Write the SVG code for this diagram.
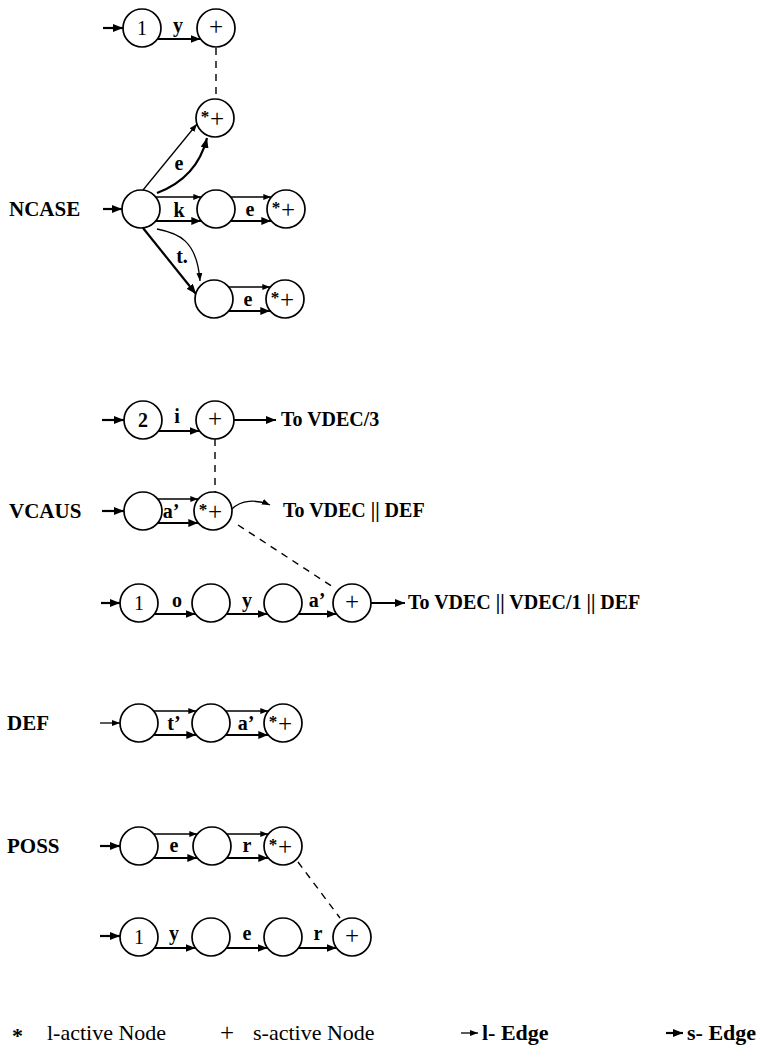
<svg xmlns="http://www.w3.org/2000/svg" width="762" height="1047" viewBox="0 0 762 1047">
<defs>
<marker id="la" viewBox="0 0 8 6" refX="8" refY="3" markerWidth="8" markerHeight="6" orient="auto" markerUnits="userSpaceOnUse"><path d="M0,0 L8,3 L0,6 z" fill="#000"/></marker>
<marker id="sa" viewBox="0 0 10 8" refX="10" refY="4" markerWidth="10" markerHeight="8" orient="auto" markerUnits="userSpaceOnUse"><path d="M0,0 L10,4 L0,8 z" fill="#000"/></marker>
</defs>
<style>
.n{fill:#fff;stroke:#000;stroke-width:1.7}
.t{font-family:"Liberation Serif",serif;fill:#000}
.nl{font-size:20px;text-anchor:middle}
.pl{font-size:25px;text-anchor:middle}
.st{font-size:17px;text-anchor:middle;font-weight:bold}
.el{font-size:20px;text-anchor:middle;font-weight:bold}
.sec{font-size:21px;font-weight:bold}
.to{font-size:20px;font-weight:bold}
.lg{font-size:22px}
.lgb{font-size:22px;font-weight:bold}
.l{fill:none;stroke:#000;stroke-width:1.3;marker-end:url(#la)}
.s{fill:none;stroke:#000;stroke-width:2.2;marker-end:url(#sa)}
.d{fill:none;stroke:#000;stroke-width:1.4;stroke-dasharray:7 6}
</style>
<rect width="762" height="1047" fill="#fff"/>
<g id="section-labels">
<text class="t sec" x="9" y="216">NCASE</text>
<text class="t sec" x="9" y="518">VCAUS</text>
<text class="t sec" x="7" y="730">DEF</text>
<text class="t sec" x="7" y="853">POSS</text>
</g>
<g id="connectors">
<line class="s" x1="103" y1="28" x2="123" y2="28"/>
<line class="s" x1="157.5" y1="39" x2="200.5" y2="39"/>
<line class="d" x1="216" y1="48" x2="216" y2="99"/>
<line class="s" x1="103" y1="209" x2="122" y2="209"/>
<line class="l" x1="143" y1="190" x2="197" y2="124"/>
<path class="s" d="M157,193 Q197,178 207,138"/>
<line class="l" x1="155.7" y1="197" x2="201.3" y2="197"/>
<line class="s" x1="155.7" y1="221" x2="201.3" y2="221"/>
<line class="l" x1="230.7" y1="197" x2="271.3" y2="197"/>
<line class="s" x1="230.7" y1="221" x2="271.3" y2="221"/>
<line class="s" x1="143" y1="228" x2="196" y2="294"/>
<path class="l" d="M157,229 C178,233 197,240 200,281"/>
<line class="l" x1="228.7" y1="287" x2="270.3" y2="287"/>
<line class="s" x1="228.7" y1="311" x2="270.3" y2="311"/>
<line class="s" x1="102" y1="420" x2="124" y2="420"/>
<line class="s" x1="158.5" y1="431" x2="199.5" y2="431"/>
<line class="s" x1="234" y1="420" x2="276" y2="420"/>
<line class="d" x1="215" y1="439" x2="215" y2="492"/>
<line class="s" x1="102" y1="511" x2="124" y2="511"/>
<line class="l" x1="157.7" y1="499" x2="198.3" y2="499"/>
<line class="s" x1="157.7" y1="523" x2="198.3" y2="523"/>
<path class="l" d="M232,509 C241,500 256,499 270,505"/>
<line class="d" x1="238" y1="525" x2="333" y2="587"/>
<line class="s" x1="101" y1="603" x2="120" y2="603"/>
<line class="s" x1="154.5" y1="614" x2="195.5" y2="614"/>
<line class="s" x1="226.5" y1="614" x2="267.5" y2="614"/>
<line class="s" x1="298.5" y1="614" x2="336.5" y2="614"/>
<line class="s" x1="371" y1="603" x2="405" y2="603"/>
<line class="l" x1="100" y1="723" x2="120" y2="723"/>
<line class="l" x1="153.7" y1="711" x2="196.3" y2="711"/>
<line class="s" x1="153.7" y1="735" x2="196.3" y2="735"/>
<line class="l" x1="225.7" y1="711" x2="268.3" y2="711"/>
<line class="s" x1="225.7" y1="735" x2="268.3" y2="735"/>
<line class="s" x1="100" y1="846" x2="120" y2="846"/>
<line class="l" x1="153.7" y1="834" x2="197.3" y2="834"/>
<line class="s" x1="153.7" y1="858" x2="197.3" y2="858"/>
<line class="l" x1="226.7" y1="834" x2="268.3" y2="834"/>
<line class="s" x1="226.7" y1="858" x2="268.3" y2="858"/>
<line class="d" x1="298" y1="862" x2="340" y2="918"/>
<line class="s" x1="100" y1="936" x2="120" y2="936"/>
<line class="s" x1="154.5" y1="948" x2="195.5" y2="948"/>
<line class="s" x1="226.5" y1="948" x2="267.5" y2="948"/>
<line class="s" x1="298.5" y1="948" x2="336.5" y2="948"/>
</g>
<g id="edge-labels">
<text class="t el" x="178" y="32">y</text>
<text class="t el" x="179" y="170">e</text>
<text class="t el" x="179" y="217">k</text>
<text class="t el" x="250" y="216">e</text>
<text class="t el" x="182" y="263" font-weight="normal">t.</text>
<text class="t el" x="248" y="306">e</text>
<text class="t el" x="177" y="423">i</text>
<text class="t el" x="171" y="518">a’</text>
<text class="t el" x="177" y="607">o</text>
<text class="t el" x="247" y="607">y</text>
<text class="t el" x="317" y="607">a’</text>
<text class="t el" x="174" y="730">t’</text>
<text class="t el" x="246" y="730">a’</text>
<text class="t el" x="174" y="852">e</text>
<text class="t el" x="247" y="852">r</text>
<text class="t el" x="174" y="940">y</text>
<text class="t el" x="247" y="940">e</text>
<text class="t el" x="318" y="940">r</text>
</g>
<g id="targets">
<text class="t to" x="281" y="426">To VDEC/3</text>
<text class="t to" x="283" y="517">To VDEC || DEF</text>
<text class="t to" x="408" y="609">To VDEC || VDEC/1 || DEF</text>
</g>
<g id="n-t1"><circle class="n" cx="142" cy="28" r="19"/><text class="t nl" x="142" y="35">1</text></g>
<g id="n-t2"><circle class="n" cx="216" cy="28" r="19"/><text class="t pl" x="216" y="35">+</text></g>
<g id="n-n1"><circle class="n" cx="215" cy="118" r="19"/><text class="t st" x="205" y="122">*</text><text class="t pl" x="217" y="127">+</text></g>
<g id="n-n0"><circle class="n" cx="141" cy="209" r="19"/></g>
<g id="n-n2"><circle class="n" cx="216" cy="209" r="19"/></g>
<g id="n-n3"><circle class="n" cx="286" cy="209" r="19"/><text class="t st" x="276" y="213">*</text><text class="t pl" x="288" y="218">+</text></g>
<g id="n-n4"><circle class="n" cx="214" cy="299" r="19"/></g>
<g id="n-n5"><circle class="n" cx="285" cy="299" r="19"/><text class="t st" x="275" y="303">*</text><text class="t pl" x="287" y="308">+</text></g>
<g id="n-v1"><circle class="n" cx="143" cy="420" r="19"/><text class="t nl" x="143" y="427" font-weight="bold">2</text></g>
<g id="n-v2"><circle class="n" cx="215" cy="420" r="19"/><text class="t pl" x="215" y="427">+</text></g>
<g id="n-v3"><circle class="n" cx="143" cy="511" r="19"/></g>
<g id="n-v4"><circle class="n" cx="213" cy="511" r="19"/><text class="t st" x="203" y="515">*</text><text class="t pl" x="215" y="520">+</text></g>
<g id="n-r1"><circle class="n" cx="139" cy="603" r="19"/><text class="t nl" x="139" y="610">1</text></g>
<g id="n-r2"><circle class="n" cx="211" cy="603" r="19"/></g>
<g id="n-r3"><circle class="n" cx="283" cy="603" r="19"/></g>
<g id="n-r4"><circle class="n" cx="352" cy="603" r="19"/><text class="t pl" x="352" y="610">+</text></g>
<g id="n-d1"><circle class="n" cx="139" cy="723" r="19"/></g>
<g id="n-d2"><circle class="n" cx="211" cy="723" r="19"/></g>
<g id="n-d3"><circle class="n" cx="283" cy="723" r="19"/><text class="t st" x="273" y="727">*</text><text class="t pl" x="285" y="732">+</text></g>
<g id="n-p1"><circle class="n" cx="139" cy="846" r="19"/></g>
<g id="n-p2"><circle class="n" cx="212" cy="846" r="19"/></g>
<g id="n-p3"><circle class="n" cx="283" cy="846" r="19"/><text class="t st" x="273" y="850">*</text><text class="t pl" x="285" y="855">+</text></g>
<g id="n-q1"><circle class="n" cx="139" cy="937" r="19"/><text class="t nl" x="139" y="944">1</text></g>
<g id="n-q2"><circle class="n" cx="211" cy="937" r="19"/></g>
<g id="n-q3"><circle class="n" cx="283" cy="937" r="19"/></g>
<g id="n-q4"><circle class="n" cx="352" cy="937" r="19"/><text class="t pl" x="352" y="944">+</text></g>
<g id="legend">
<text class="t lgb" x="12" y="1043">*</text>
<text class="t lg" x="47" y="1040">l-active Node</text>
<text class="t pl" x="227" y="1041">+</text>
<text class="t lg" x="253" y="1040">s-active Node</text>
<line class="l" x1="461" y1="1033" x2="478" y2="1033"/>
<text class="t lgb" x="482" y="1040">l- Edge</text>
<line class="s" x1="666" y1="1033" x2="683" y2="1033"/>
<text class="t lgb" x="687" y="1040">s- Edge</text>
</g>
</svg>
